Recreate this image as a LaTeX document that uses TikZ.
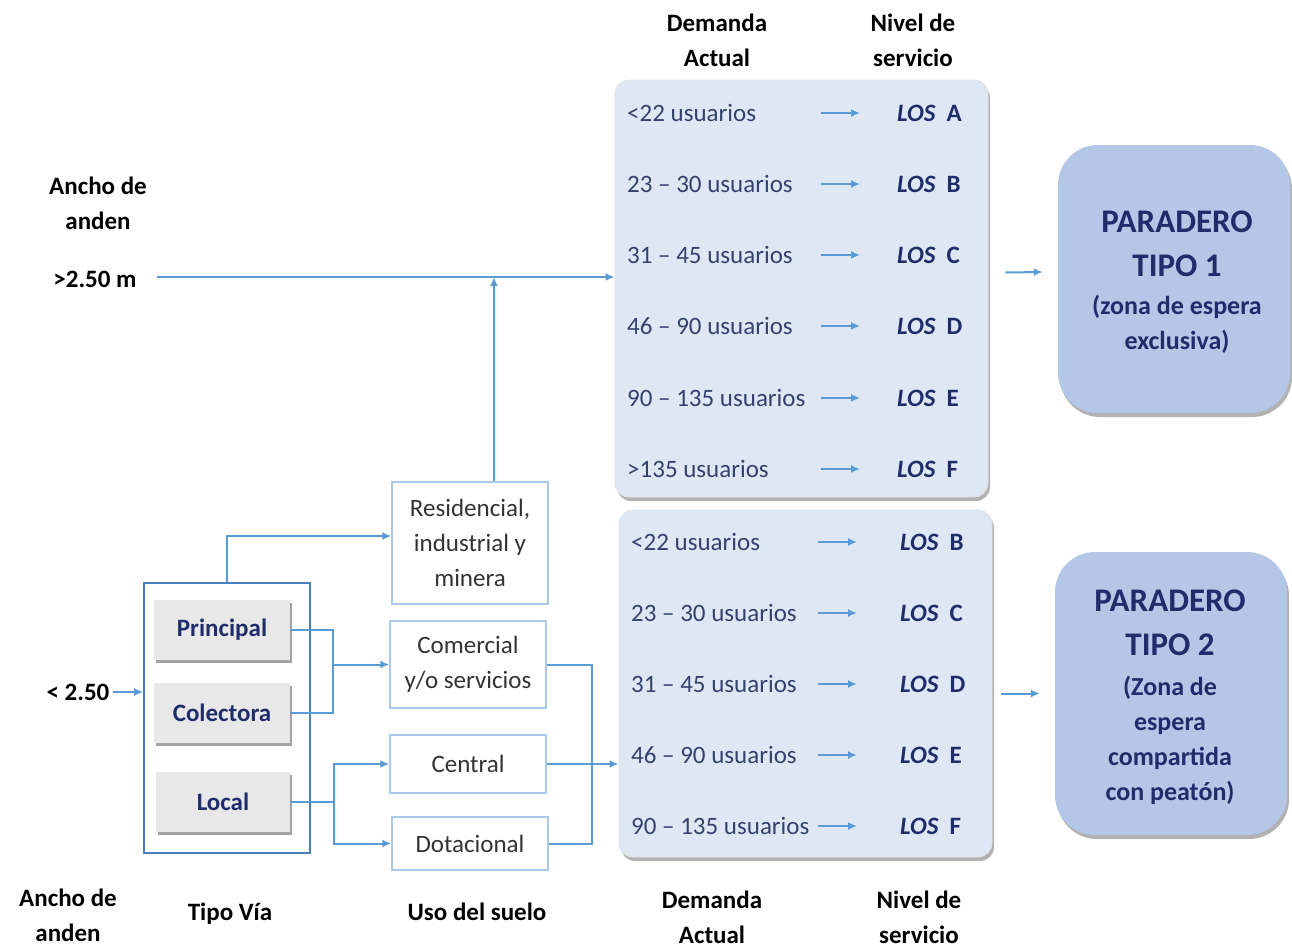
\documentclass[tikz,border=0pt]{standalone}
\usepackage{fontspec}
\setmainfont{Carlito}
\usetikzlibrary{shadows,arrows.meta}
\definecolor{lnc}{HTML}{5B9BD5}
\definecolor{navy}{HTML}{1F2D6B}
\definecolor{numc}{HTML}{34426E}
\definecolor{boxf}{HTML}{DEE8F4}
\definecolor{parf}{HTML}{B4C7E7}
\definecolor{usob}{HTML}{A9C9EA}
\definecolor{viab}{HTML}{4A7EBB}
\definecolor{grayf}{HTML}{E8E8E8}
\definecolor{usot}{HTML}{333333}
\tikzset{
  hdr/.style={font=\fontsize{25}{35}\selectfont\bfseries, align=center, text=black, inner sep=0pt},
  rowtxt/.style={anchor=west, font=\fontsize{25}{30}\selectfont, text=numc, inner sep=0pt},
  lostxt/.style={anchor=west, font=\fontsize{25}{30}\selectfont\bfseries, text=navy, inner sep=0pt},
  arr/.style={draw=lnc, line width=2pt, -{Latex[length=9pt,width=8pt]}},
  lnk/.style={draw=lnc, line width=2pt},
  panel/.style={fill=boxf, draw=black!12, line width=0.8pt, rounded corners=14pt,
    drop shadow={shadow xshift=2pt, shadow yshift=-4pt, fill=black!55, opacity=0.55}},
  parbox/.style={fill=parf, rounded corners=40pt,
    drop shadow={shadow xshift=2pt, shadow yshift=-4pt, fill=black!55, opacity=0.55}},
  partitle/.style={font=\fontsize{33}{44}\selectfont\bfseries, text=navy, align=center, inner sep=0pt},
  parsub/.style={font=\fontsize{26}{35}\selectfont\bfseries, text=navy, align=center, inner sep=0pt},
  usobox/.style={draw=usob, line width=1.4pt, fill=white, text=usot, align=center,
    font=\fontsize{25}{35}\selectfont, inner sep=0pt},
  viabox/.style={fill=grayf, text=navy, font=\fontsize{25}{30}\selectfont\bfseries,
    minimum width=136pt, minimum height=60pt, inner sep=0pt,
    drop shadow={shadow xshift=1.5pt, shadow yshift=-3pt, fill=black!60, opacity=0.6}},
}
\begin{document}
\begin{tikzpicture}[x=1pt,y=-1pt]
\useasboundingbox[fill=white] (0,0) rectangle (1292,951);

% headers
\node[hdr] (hDem) at (717,40) {Demanda\\Actual};
\node[hdr] (hNiv) at (913,40) {Nivel de\\servicio};
\node[hdr] (hAnc) at (98,203) {Ancho de\\anden};
\node[hdr] (gt) at (95,279) {>2.50 m};
\node[hdr] (lt) at (78,692) {< 2.50};
\node[hdr] (bAnc) at (68,915) {Ancho de\\anden};
\node[hdr] (bVia) at (230,914) {Tipo Vía};
\node[hdr] (bUso) at (477,912) {Uso del suelo};
\node[hdr] (bDem) at (712,917) {Demanda\\Actual};
\node[hdr] (bNiv) at (919,917) {Nivel de\\servicio};

% panels
\node[panel, minimum width=373pt, minimum height=417pt, inner sep=0pt] (box1) at (801.5,288.5) {};
\node[panel, minimum width=373pt, minimum height=347pt, inner sep=0pt] (box2) at (805.5,683.5) {};
\node[parbox, minimum width=232pt, minimum height=268pt, inner sep=0pt] (par1) at (1174,279) {};
\node[parbox, minimum width=232pt, minimum height=283pt, inner sep=0pt] (par2) at (1171,693.5) {};
\node[partitle] (p1t) at (1177,244) {PARADERO\\TIPO 1};
\node[parsub] (p1s) at (1177,324) {(zona de espera\\exclusiva)};
\node[partitle] (p2t) at (1170,623) {PARADERO\\TIPO 2};
\node[parsub] (p2s) at (1170,740) {(Zona de\\espera\\compartida\\con peatón)};

% rows box 1
\foreach \i/\t/\l/\y in {1/{<22 usuarios}/A/113, 2/{23 – 30 usuarios}/B/184, 3/{31 – 45 usuarios}/C/255,
    4/{46 – 90 usuarios}/D/326, 5/{90 – 135 usuarios}/E/398, 6/{>135 usuarios}/F/469}{
  \node[rowtxt] (r1\i) at (627,\y) {\t};
  \node[lostxt] (l1\i) at (897,\y) {\textit{LOS}\hspace{11pt}\l};
  \coordinate (a1s\i) at (821,\y);
  \draw[arr] (a1s\i) -- (l1\i.west -| 860,0);
}
% rows box 2
\foreach \i/\t/\l/\y in {1/{<22 usuarios}/B/542, 2/{23 – 30 usuarios}/C/613, 3/{31 – 45 usuarios}/D/684,
    4/{46 – 90 usuarios}/E/755, 5/{90 – 135 usuarios}/F/826}{
  \node[rowtxt] (r2\i) at (631,\y) {\t};
  \node[lostxt] (l2\i) at (900,\y) {\textit{LOS}\hspace{11pt}\l};
  \coordinate (a2s\i) at (818,\y);
  \draw[arr] (a2s\i) -- (l2\i.west -| 857,0);
}

% arrows to paraderos
\draw[arr] ([xshift=17pt,yshift=16pt]box1.east) -- ([xshift=-15pt,yshift=7pt]par1.west);
\draw[arr] ([xshift=9pt]box2.east |- par2.west) -- ([xshift=-15pt]par2.west);

% tipo via
\node[draw=viab, line width=1.6pt, minimum width=166pt, minimum height=270pt, inner sep=0pt] (via) at (227,718) {};
\node[viabox] (prin) at (222,630) {Principal};
\node[viabox] (col) at (222,713) {Colectora};
\node[viabox, minimum width=134pt] (loc) at (223,802) {Local};

% uso del suelo
\node[usobox, minimum width=156pt, minimum height=122pt] (res) at (470,543) {Residencial,\\industrial y\\minera};
\node[usobox, minimum width=156pt, minimum height=87pt] (com) at (468,664.5) {Comercial\\y/o servicios};
\node[usobox, minimum width=156pt, minimum height=58pt] (cen) at (468,764) {Central};
\node[usobox, minimum width=156pt, minimum height=53pt] (dot) at (470,843.5) {Dotacional};

% connectors
\coordinate (m0) at (157,277);
\draw[arr] (m0) -- (m0 -| box1.west);
\draw[arr] ([xshift=24pt]res.north) -- ([xshift=24pt]res.north |- m0);
\draw[arr] ([xshift=3pt]lt.east) -- (lt.east -| via.west);
\draw[arr] (via.north) |- ([yshift=7pt]res.west);
\coordinate (j1) at (333,664.5);
\draw[lnk] (prin.east) -| (j1) |- (col.east);
\draw[arr] (j1) -- (com.west);
\coordinate (j2) at (334,802);
\draw[lnk] (loc.east) -- (j2);
\draw[arr] (j2) |- (cen.west);
\draw[arr] (j2) |- (dot.west);
\coordinate (j3) at (592,764);
\draw[lnk] (com.east) -| (j3) |- (dot.east);
\draw[arr] (cen.east) -- (cen.east -| box2.west);
\end{tikzpicture}
\end{document}
